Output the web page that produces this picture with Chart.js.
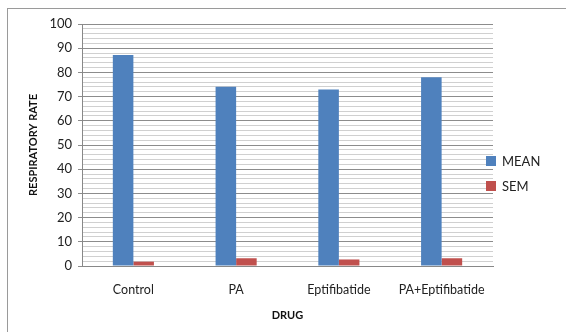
<!DOCTYPE html>
<html>
<head>
<meta charset="utf-8">
<script src="https://cdn.jsdelivr.net/npm/chart.js@4"></script>
<style>
  html, body { margin: 0; padding: 0; background: #fff; }
  #wrap { width: 566px; height: 332px; position: relative; }
</style>
</head>
<body>
<div id="wrap"><canvas id="rrChart" width="566" height="332"></canvas></div>
<script>
const drugs = ["Control", "PA", "Eptifibatide", "PA+Eptifibatide"];
const meanVals = [87.2, 74.1, 72.9, 78.0];
const semVals = [1.8, 3.2, 2.7, 3.2];
const yTicks = [0, 10, 20, 30, 40, 50, 60, 70, 80, 90, 100];

const FONT = "Lato, 'Open Sans', sans-serif";

/* frame + legend drawn by hand */
const extras = {
  id: "extras",
  beforeDraw(chart) {
    const c = chart.ctx;
    c.save();
    c.strokeStyle = "#9a9a9a";
    c.lineWidth = 1;
    c.strokeRect(7.5, 8.5, 700, 500);
    c.restore();
  },
  afterDraw(chart) {
    const c = chart.ctx;
    c.save();
    c.font = "13px " + FONT;
    c.textBaseline = "middle";
    chart.data.datasets.forEach((ds, i) => {
      const y = 161 + i * 25;
      c.fillStyle = ds.backgroundColor;
      c.fillRect(486, y - 5, 10, 10);
      c.fillStyle = "#222";
      c.fillText(ds.label, 502, y + 1);
    });
    c.restore();
  }
};

new Chart(document.getElementById("rrChart"), {
  type: "bar",
  data: {
    labels: drugs,
    datasets: [
      { label: "MEAN", data: meanVals, backgroundColor: "#4f81bd" },
      { label: "SEM", data: semVals, backgroundColor: "#c0504d" }
    ]
  },
  options: {
    responsive: false,
    animation: false,
    devicePixelRatio: 1,
    layout: { padding: { left: 0, right: 73, top: 24, bottom: 0 } },
    categoryPercentage: 0.4,
    barPercentage: 1,
    plugins: { legend: { display: false }, tooltip: { enabled: false } },
    scales: {
      x: {
        grid: { display: false },
        border: { color: "#888", width: 1 },
        ticks: { color: "#222", font: { family: FONT, size: 12.5 }, padding: 8 },
        title: {
          display: true, text: "DRUG", color: "#111",
          font: { family: FONT, size: 11, weight: "bold" },
          padding: { top: 0, bottom: 10 }
        },
        afterFit: s => { s.height = 66; }
      },
      y: {
        min: 0,
        max: 100,
        afterBuildTicks: s => {
          const t = [];
          for (let v = 0; v <= 100; v += 2) t.push({ value: v });
          s.ticks = t;
        },
        ticks: {
          autoSkip: false,
          color: "#222",
          font: { family: FONT, size: 13 },
          padding: 6,
          callback: v => yTicks.includes(v) ? v : ""
        },
        grid: {
          color: ctx => ctx.tick && ctx.tick.value % 10 === 0 ? "#8c8c8c" : "#d0d0d0",
          tickColor: ctx => ctx.tick && ctx.tick.value % 10 === 0 ? "#8c8c8c" : "rgba(0,0,0,0)",
          tickLength: 4,
          lineWidth: 1
        },
        border: { color: "#888", width: 1 },
        title: {
          display: true, text: "RESPIRATORY RATE", color: "#111",
          font: { family: FONT, size: 11, weight: "bold" },
          padding: { top: 27, bottom: 0 }
        },
        afterFit: s => { s.width = 82; }
      }
    }
  },
  plugins: [extras]
});
</script>
</body>
</html>
